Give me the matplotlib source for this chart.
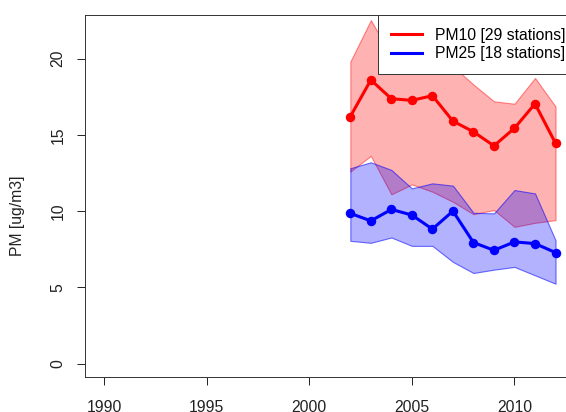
#!/usr/bin/env python3

import matplotlib
matplotlib.use('Agg')
import matplotlib.pyplot as plt

years = [2002, 2003, 2004, 2005, 2006, 2007, 2008, 2009, 2010, 2011, 2012]

pm10_mean = [16.2, 18.6, 17.37, 17.26, 17.57, 15.9, 15.2, 14.28, 15.44, 17.04, 14.45]
pm10_upper = [19.8, 22.52, 20.2, 19.9, 20.0, 19.5, 18.3, 17.2, 17.04, 18.73, 16.86]
pm10_lower = [12.59, 13.62, 11.10, 11.75, 11.27, 10.61, 9.80, 10.07, 8.97, 9.23, 9.41]

pm25_mean = [9.85, 9.36, 10.11, 9.74, 8.82, 10.0, 7.94, 7.43, 7.98, 7.87, 7.28]
pm25_upper = [12.81, 13.20, 12.70, 11.49, 11.82, 11.67, 9.89, 9.85, 11.38, 11.16, 8.09]
pm25_lower = [8.05, 7.92, 8.27, 7.72, 7.72, 6.67, 5.94, 6.16, 6.34, 5.79, 5.24]

labels = ['PM10 [29 stations]', 'PM25 [18 stations]']
xticks = [1990, 1995, 2000, 2005, 2010]
yticks = [0, 5, 10, 15, 20]

plt.rcParams['font.family'] = ['Liberation Sans', 'DejaVu Sans']
fs = 11.3

fig = plt.figure(figsize=(5.66, 4.12), dpi=100)
ax = fig.add_axes([85 / 566, 35 / 412, (574 - 85) / 566, (377 - 15) / 412])

ax.fill_between(years, pm10_lower, pm10_upper, facecolor=(1, 0, 0, 0.3),
                edgecolor=(1, 0, 0, 0.45), linewidth=0.8)
ax.fill_between(years, pm25_lower, pm25_upper, facecolor=(0, 0, 1, 0.3),
                edgecolor=(0, 0, 1, 0.55), linewidth=0.8)
ax.plot(years, pm10_mean, color='red', lw=2.2, marker='o', ms=5.8, label=labels[0])
ax.plot(years, pm25_mean, color='blue', lw=2.2, marker='o', ms=5.8, label=labels[1])

ax.set_xlim(1989.07, 2012.9)
ax.set_ylim(-0.88, 22.86)
ax.set_xticks(xticks)
ax.set_yticks(yticks)
ax.tick_params(direction='out', length=5.5, width=0.7, labelsize=fs, colors='#222222')
ax.tick_params(axis='x', pad=11)
ax.tick_params(axis='y', pad=8.5)
for lab in ax.get_yticklabels():
    lab.set_rotation(90)
    lab.set_va('center')
for s in ax.spines.values():
    s.set_linewidth(0.7)
    s.set_color('#333333')

fig.text(18 / 566, 196 / 412, 'PM [ug/m3]', rotation=90, ha='center', va='center',
         fontsize=fs, color='#222222')

# legend sits in the top-right corner; its right part falls off the picture
leg = ax.legend(loc='upper right', bbox_to_anchor=(1.008, 1.0), fontsize=fs,
                frameon=True, fancybox=False, borderaxespad=0, borderpad=0.8,
                handlelength=1.97, handletextpad=0.83, labelspacing=0.25, framealpha=1)
leg.get_frame().set_edgecolor('#333333')
leg.get_frame().set_linewidth(0.7)
for h in leg.legend_handles:
    h.set_marker('')

fig.savefig('out.png', dpi=100)
